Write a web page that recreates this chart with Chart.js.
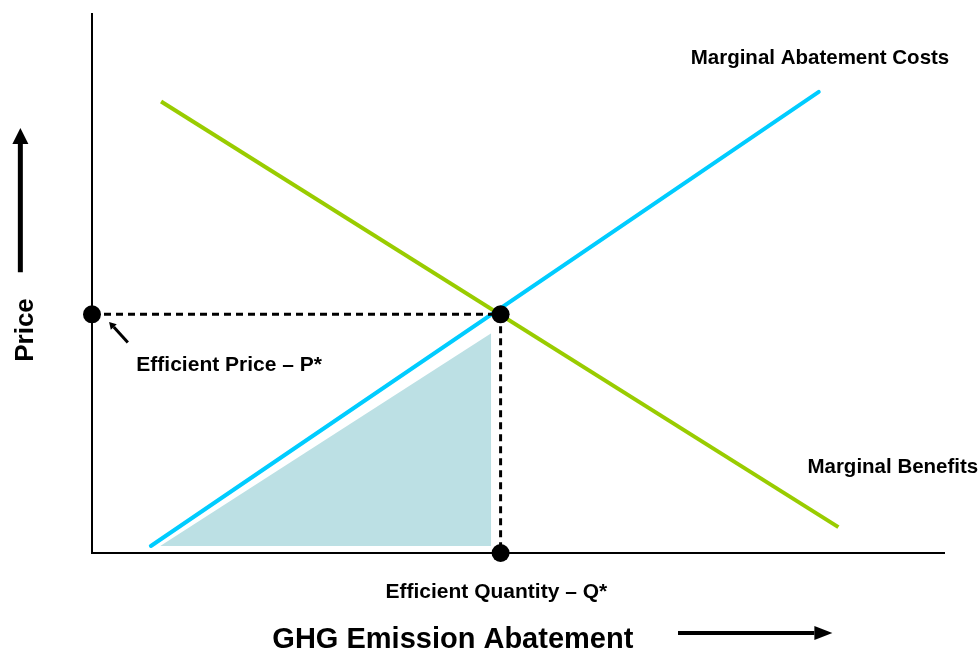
<!DOCTYPE html>
<html>
<head>
<meta charset="utf-8">
<script src="https://cdn.jsdelivr.net/npm/chart.js@4/dist/chart.umd.min.js"></script>
<style>
  html, body { margin: 0; padding: 0; background: #fff; }
  #wrap { width: 980px; height: 654px; }
</style>
</head>
<body>
<div id="wrap"><canvas id="chart" width="980" height="654"></canvas></div>
<script>
// curves, in abstract units (x: abatement 0-100, y: price 0-100)
const macX = [6.9, 85.2];
const macY = [1.3, 85.4];
const mbX = [8.1, 87.5];
const mbY = [83.6, 4.8];

// efficient point
const qStar = 47.9;
const pStar = 44.2;

// shaded area under marginal abatement costs
const shadeX = [8.0, 46.8];
const shadeY = [1.3, 40.7];
const shadeBase = 1.3;

const labelTexts = ['Marginal Abatement Costs', 'Marginal Benefits', 'Efficient Price – P*', 'Efficient Quantity – Q*'];
const xTitle = 'GHG Emission Abatement';
const yTitle = 'Price';

const blue = '#00ccff';
const green = '#99cc00';
const shade = '#bce0e4';

const toPts = (xs, ys) => xs.map((x, i) => ({ x, y: ys[i] }));

const annotations = {
  id: 'annotations',
  beforeDatasetsDraw(chart) {
    const { ctx, chartArea: a } = chart;
    ctx.save();
    ctx.strokeStyle = '#000';
    ctx.lineWidth = 2;
    ctx.beginPath();
    ctx.moveTo(a.left, a.top);
    ctx.lineTo(a.left, a.bottom);
    ctx.lineTo(a.right, a.bottom);
    ctx.stroke();
    ctx.restore();
  },
  afterDatasetsDraw(chart) {
    const { ctx, scales: { x, y } } = chart;
    ctx.save();
    ctx.fillStyle = '#000';
    ctx.textBaseline = 'alphabetic';
    ctx.font = 'bold 20.5px "Liberation Sans", Arial, sans-serif';

    ctx.textAlign = 'right';
    ctx.fillText(labelTexts[0], x.getPixelForValue(100.5), y.getPixelForValue(90.6));
    ctx.fillText(labelTexts[1], x.getPixelForValue(103.9), y.getPixelForValue(14.8));
    ctx.font = 'bold 21px "Liberation Sans", Arial, sans-serif';
    ctx.textAlign = 'left';
    ctx.fillText(labelTexts[2], x.getPixelForValue(5.2), y.getPixelForValue(33.7));
    ctx.textAlign = 'center';
    ctx.fillText(labelTexts[3], x.getPixelForValue(47.4), y.getPixelForValue(-8.3));

    ctx.font = 'bold 29px "Liberation Sans", Arial, sans-serif';
    ctx.fillText(xTitle, x.getPixelForValue(42.3), y.getPixelForValue(-17.6));

    ctx.save();
    ctx.translate(x.getPixelForValue(-7.8), y.getPixelForValue(41.3));
    ctx.rotate(-Math.PI / 2);
    ctx.font = 'bold 26px "Liberation Sans", Arial, sans-serif';
    ctx.textBaseline = 'middle';
    ctx.fillText(yTitle, 0, 0);
    ctx.restore();

    // arrows
    const arrow = (x0, y0, x1, y1, w, head, hw) => {
      const ang = Math.atan2(y1 - y0, x1 - x0);
      const bx = x1 - head * Math.cos(ang);
      const by = y1 - head * Math.sin(ang);
      ctx.lineWidth = w;
      ctx.strokeStyle = '#000';
      ctx.beginPath();
      ctx.moveTo(x0, y0);
      ctx.lineTo(bx, by);
      ctx.stroke();
      ctx.beginPath();
      ctx.moveTo(x1, y1);
      ctx.lineTo(bx + hw * Math.sin(ang), by - hw * Math.cos(ang));
      ctx.lineTo(bx - hw * Math.sin(ang), by + hw * Math.cos(ang));
      ctx.closePath();
      ctx.fill();
    };
    arrow(x.getPixelForValue(68.7), y.getPixelForValue(-14.8), x.getPixelForValue(86.8), y.getPixelForValue(-14.8), 4, 18, 7);
    arrow(x.getPixelForValue(-8.4), y.getPixelForValue(52), x.getPixelForValue(-8.4), y.getPixelForValue(78.7), 5, 16, 8);
    arrow(x.getPixelForValue(4.2), y.getPixelForValue(39), x.getPixelForValue(2.0), y.getPixelForValue(42.8), 3, 7, 4);
    ctx.restore();
  }
};

new Chart(document.getElementById('chart'), {
  type: 'line',
  data: {
    datasets: [
      {
        data: toPts(shadeX, shadeY),
        order: 5,
        borderWidth: 0,
        pointRadius: 0,
        backgroundColor: shade,
        fill: { value: shadeBase },
      },
      {
        data: toPts(macX, macY),
        order: 4,
        borderColor: blue,
        borderWidth: 4,
        borderCapStyle: 'round',
        pointRadius: 0,
      },
      {
        data: toPts(mbX, mbY),
        order: 3,
        borderColor: green,
        borderWidth: 4,
        borderCapStyle: 'butt',
        pointRadius: 0,
      },
      {
        data: [{ x: 0, y: pStar }, { x: qStar, y: pStar }],
        order: 2,
        borderColor: '#000',
        borderWidth: 3,
        borderDash: [7, 5],
        pointRadius: 0,
        clip: false,
      },
      {
        data: [{ x: qStar, y: pStar }, { x: qStar, y: 0 }],
        order: 2,
        borderColor: '#000',
        borderWidth: 3,
        borderDash: [7, 5],
        pointRadius: 0,
        clip: false,
      },
      {
        data: [{ x: 0, y: pStar }, { x: qStar, y: pStar }, { x: qStar, y: 0 }],
        order: 0,
        showLine: false,
        pointRadius: 9,
        pointBackgroundColor: '#000',
        pointBorderWidth: 0,
        clip: false,
      },
    ],
  },
  options: {
    responsive: false,
    animation: false,
    layout: { padding: { left: 92, top: 13, right: 35, bottom: 101 } },
    plugins: { legend: { display: false }, tooltip: { enabled: false } },
    scales: {
      x: { type: 'linear', min: 0, max: 100, display: false },
      y: { type: 'linear', min: 0, max: 100, display: false },
    },
  },
  plugins: [annotations],
});
</script>
</body>
</html>
